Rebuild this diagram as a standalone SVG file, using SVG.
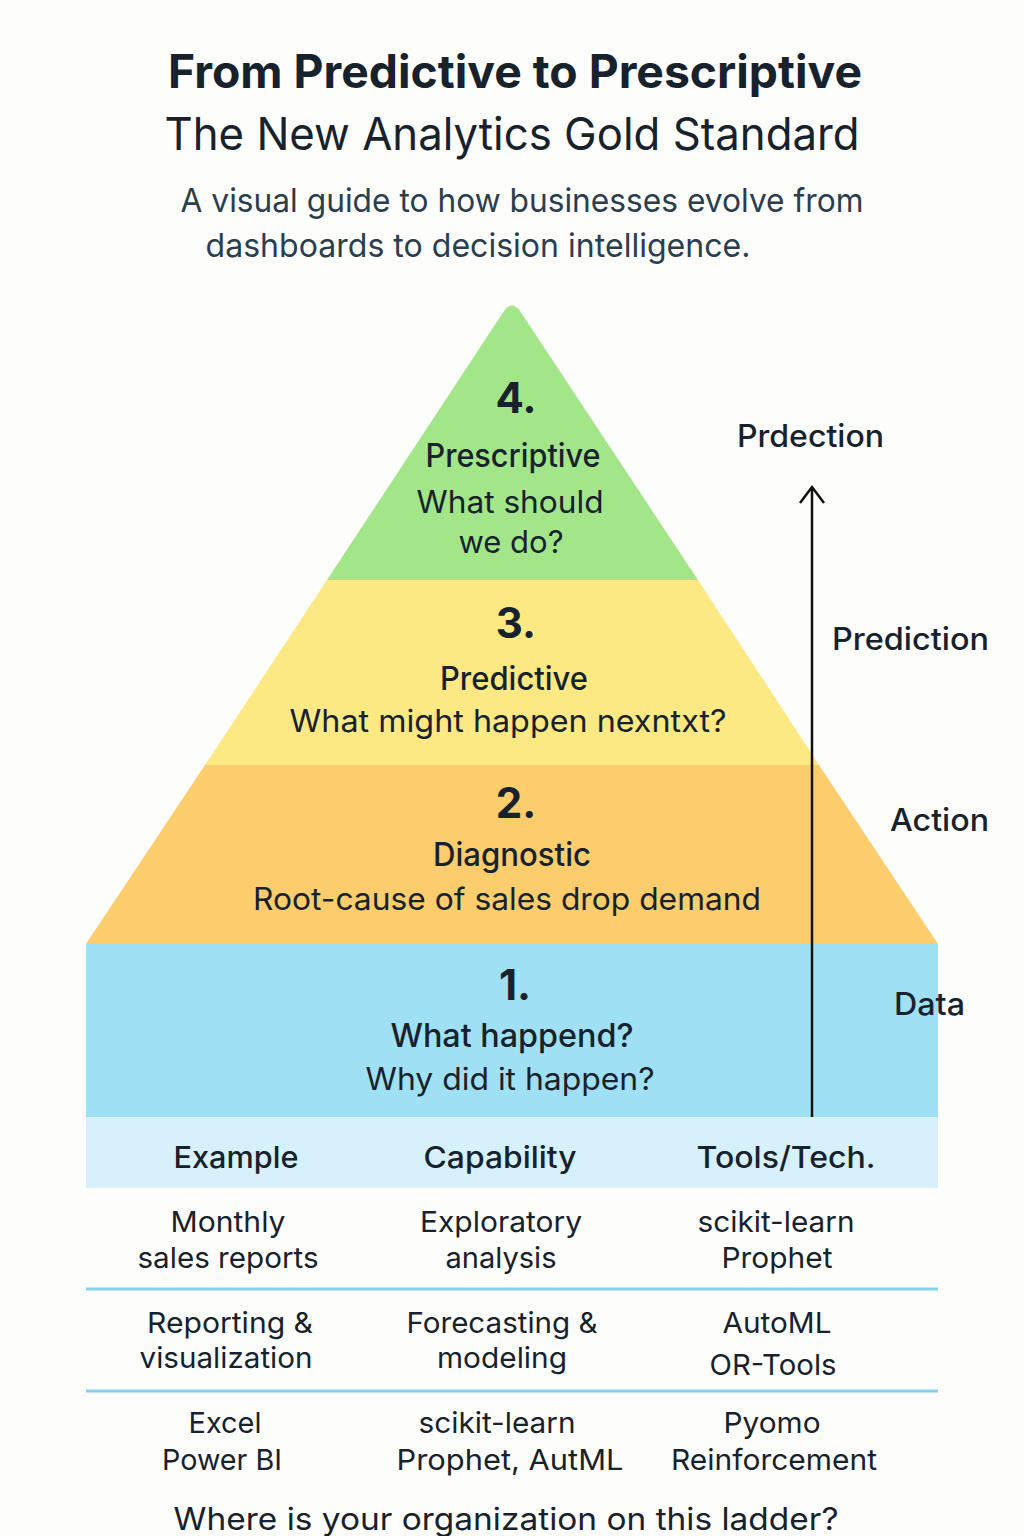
<svg xmlns="http://www.w3.org/2000/svg" width="1024" height="1536" viewBox="0 0 1024 1536">
<style>
text{font-family:Inter,"Open Sans","Liberation Sans",sans-serif;fill:#17222c;text-anchor:middle}
.t1{font-size:46px;font-weight:700}
.t2{font-size:45px;font-weight:400}
.sub{font-size:33px;fill:#2b3e4e}
.num{font-size:42px;font-weight:700}
.hd{font-size:32px;font-weight:500}
.bd{font-size:31px}
.side{font-size:31px;font-weight:500;text-anchor:start}
.th{font-size:30px;font-weight:500}
.td{font-size:29px}
.sep{stroke:#86d3f0;stroke-width:3}
.conn{stroke:#111;stroke-width:2.5;fill:none}
</style>
<rect width="1024" height="1536" fill="#fdfdfc"/>
<g id="title">
<text class="t1" x="515" y="88" textLength="694" lengthAdjust="spacingAndGlyphs">From Predictive to Prescriptive</text>
<text class="t2" x="512" y="150" textLength="695" lengthAdjust="spacingAndGlyphs">The New Analytics Gold Standard</text>
<text class="sub" x="522" y="212" textLength="683" lengthAdjust="spacingAndGlyphs">A visual guide to how businesses evolve from</text>
<text class="sub" x="478" y="257" textLength="545" lengthAdjust="spacingAndGlyphs">dashboards to decision intelligence.</text>
</g>
<g id="level4">
<path d="M327,580 L504,311 Q512,300 520,311 L698,580 Z" fill="#a3e68a"/>
<text class="num" x="516" y="413">4.</text>
<text class="hd" x="513" y="467" textLength="175" lengthAdjust="spacingAndGlyphs">Prescriptive</text>
<text class="bd" x="510" y="513" textLength="187" lengthAdjust="spacingAndGlyphs">What should</text>
<text class="bd" x="511" y="553" textLength="105" lengthAdjust="spacingAndGlyphs">we do?</text>
</g>
<g id="level3">
<path d="M327,580 L698,580 L819,765 L205,765 Z" fill="#fde983"/>
<text class="num" x="516" y="638">3.</text>
<text class="hd" x="514" y="690" textLength="148" lengthAdjust="spacingAndGlyphs">Predictive</text>
<text class="bd" x="508" y="732" textLength="437" lengthAdjust="spacingAndGlyphs">What might happen nexntxt?</text>
</g>
<g id="level2">
<path d="M205,765 L819,765 L938,944 L86,944 Z" fill="#fbcd6d"/>
<text class="num" x="516" y="818">2.</text>
<text class="hd" x="512" y="866" textLength="158" lengthAdjust="spacingAndGlyphs">Diagnostic</text>
<text class="bd" x="507" y="910" textLength="508" lengthAdjust="spacingAndGlyphs">Root-cause of sales drop demand</text>
</g>
<g id="level1">
<rect x="86" y="944" width="852" height="173" fill="#a0e0f5"/>
<text class="num" x="515" y="1000">1.</text>
<text class="hd" x="512" y="1047" font-weight="700" textLength="243" lengthAdjust="spacingAndGlyphs">What happend?</text>
<text class="bd" x="510" y="1090" textLength="289" lengthAdjust="spacingAndGlyphs">Why did it happen?</text>
</g>
<g id="connectors">
<line class="conn" x1="812" y1="1117" x2="812" y2="487"/>
<polyline class="conn" points="800,503 812,487 824,503"/>
</g>
<g id="side-labels">
<text class="side" x="737" y="447" textLength="147" lengthAdjust="spacingAndGlyphs">Prdection</text>
<text class="side" x="832" y="650" textLength="157" lengthAdjust="spacingAndGlyphs">Prediction</text>
<text class="side" x="890" y="831" textLength="99" lengthAdjust="spacingAndGlyphs">Action</text>
<text class="side" x="894" y="1015" textLength="71" lengthAdjust="spacingAndGlyphs">Data</text>
</g>
<g id="table">
<rect x="86" y="1117" width="852" height="71" fill="#d6f1fb"/>
<text class="th" x="236" y="1168" textLength="125" lengthAdjust="spacingAndGlyphs">Example</text>
<text class="th" x="500" y="1168" textLength="153" lengthAdjust="spacingAndGlyphs">Capability</text>
<text class="th" x="786" y="1168" textLength="179" lengthAdjust="spacingAndGlyphs">Tools/Tech.</text>
<text class="td" x="228" y="1232" textLength="115" lengthAdjust="spacingAndGlyphs">Monthly</text>
<text class="td" x="228" y="1268" textLength="181" lengthAdjust="spacingAndGlyphs">sales reports</text>
<text class="td" x="501" y="1232" textLength="162" lengthAdjust="spacingAndGlyphs">Exploratory</text>
<text class="td" x="501" y="1268" textLength="111" lengthAdjust="spacingAndGlyphs">analysis</text>
<text class="td" x="776" y="1232" textLength="157" lengthAdjust="spacingAndGlyphs">scikit-learn</text>
<text class="td" x="777" y="1268" textLength="111" lengthAdjust="spacingAndGlyphs">Prophet</text>
<line class="sep" x1="86" y1="1289" x2="938" y2="1289"/>
<text class="td" x="230" y="1333" textLength="166" lengthAdjust="spacingAndGlyphs">Reporting &amp;</text>
<text class="td" x="226" y="1368" textLength="173" lengthAdjust="spacingAndGlyphs">visualization</text>
<text class="td" x="502" y="1333" textLength="191" lengthAdjust="spacingAndGlyphs">Forecasting &amp;</text>
<text class="td" x="502" y="1368" textLength="130" lengthAdjust="spacingAndGlyphs">modeling</text>
<text class="td" x="777" y="1333" textLength="109" lengthAdjust="spacingAndGlyphs">AutoML</text>
<text class="td" x="773" y="1375" textLength="127" lengthAdjust="spacingAndGlyphs">OR-Tools</text>
<line class="sep" x1="86" y1="1391" x2="938" y2="1391"/>
<text class="td" x="225" y="1433" textLength="73" lengthAdjust="spacingAndGlyphs">Excel</text>
<text class="td" x="222" y="1470" textLength="120" lengthAdjust="spacingAndGlyphs">Power BI</text>
<text class="td" x="497" y="1433" textLength="157" lengthAdjust="spacingAndGlyphs">scikit-learn</text>
<text class="td" x="510" y="1470" textLength="227" lengthAdjust="spacingAndGlyphs">Prophet, AutML</text>
<text class="td" x="772" y="1433" textLength="97" lengthAdjust="spacingAndGlyphs">Pyomo</text>
<text class="td" x="774" y="1470" textLength="206" lengthAdjust="spacingAndGlyphs">Reinforcement</text>
</g>
<g id="footer">
<text class="bd" x="506" y="1530" font-size="33" textLength="665" lengthAdjust="spacingAndGlyphs">Where is your organization on this ladder?</text>
</g>
</svg>
